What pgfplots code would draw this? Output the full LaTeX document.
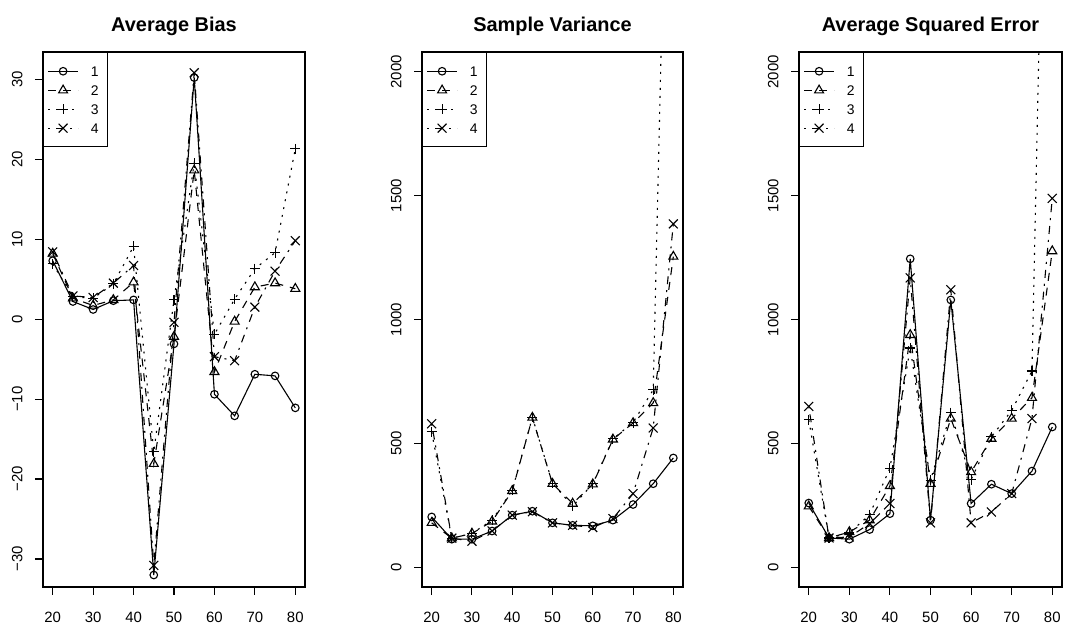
\documentclass[border=0pt]{standalone}
\usepackage{pgfplots}
\pgfplotsset{compat=1.18}
\usepackage{pgfplotstable}
\usepackage{fontspec}
\setmainfont{Liberation Sans}

% panel data: x, then series 1..4
\pgfplotstableread{
x s1 s2 s3 s4
20 7.3 8.2 6.9 8.4
25 2.2 2.6 2.8 2.9
30 1.2 1.7 2.6 2.7
35 2.3 2.4 4.4 4.5
40 2.4 4.6 9.1 6.7
45 -32.0 -18.1 -16.6 -30.8
50 -3.1 -2.2 2.4 -0.4
55 30.2 18.6 19.5 30.8
60 -9.4 -6.6 -1.9 -4.7
65 -12.1 -0.3 2.5 -5.2
70 -6.9 4.0 6.3 1.5
75 -7.1 4.5 8.3 6.0
80 -11.1 3.8 21.3 9.8
}\bias

\pgfplotstableread{
x s1 s2 s3 s4
20 203 179 546 579
25 113 117 117 117
30 113 136 136 105
35 146 185 190 146
40 210 308 310 210
45 226 604 605 224
50 179 337 339 179
55 169 257 246 169
60 167 335 337 160
65 190 516 518 196
70 253 582 584 297
75 337 663 716 562
80 441 1254 4200 1386
}\variance

\pgfplotstableread{
x s1 s2 s3 s4
20 259 246 595 649
25 118 118 118 118
30 113 142 138 122
35 152 190 212 176
40 216 328 400 257
45 1245 938 885 1168
50 190 337 351 179
55 1079 600 624 1120
60 257 384 354 179
65 335 519 526 223
70 297 600 633 297
75 388 684 792 600
80 566 1276 4600 1489
}\sqerr

\pgfplotsset{
  rpanel/.style={
    scale only axis, height=535bp, anchor=south west,
    axis line style={line width=1.1bp},
    xmin=17.6, xmax=82.4, xtick={20,30,...,80},
    tick align=outside, tick pos=left, major tick length=8bp,
    every tick/.style={black, line width=1.1bp},
    scaled ticks=false,
    /pgf/number format/1000 sep={},
    /pgf/number format/assume math mode=true,
    tick label style={font=\fontsize{15}{17}\selectfont},
    yticklabel style={rotate=90, anchor=south},
    xticklabel shift=14bp, yticklabel shift=9bp,
    title style={font=\fontsize{20}{22}\selectfont\bfseries, anchor=base, yshift=15bp},
    legend style={at={(0,1)}, anchor=north west, draw=black, line width=1.1bp,
      font=\fontsize{14}{16}\selectfont, inner xsep=4bp, inner ysep=13.7bp, row sep=8.9bp,
      nodes={inner sep=0bp, text height=10bp, text depth=0bp},
      /tikz/every odd column/.append style={column sep=7.5bp},
      /tikz/every even column/.append style={nodes={minimum width=17bp}}},
    legend cell align=left,
    legend image code/.code={\draw[mark repeat=2,mark phase=2,#1] plot coordinates {(0bp,0bp) (15bp,0bp) (30bp,0bp)};},
    every axis plot/.append style={black, line width=1.1bp, mark options={solid}},
  },
  s1/.style={solid, mark=o, mark size=3.8bp},
  s2/.style={dash pattern=on 8bp off 7bp, mark=triangle, mark size=5.2bp},
  s3/.style={dash pattern=on 2bp off 6bp, mark=+, mark size=5bp},
  s4/.style={dash pattern=on 2bp off 6bp on 8bp off 6bp, mark=x, mark size=6.3bp},
}

\begin{document}
\begin{tikzpicture}
\path[use as bounding box] (0,0) rectangle (1065bp,632bp);

\begin{axis}[rpanel, at={(43bp,45bp)}, width=262bp,
  title={Average Bias},
  ymin=-33.5, ymax=33.4, ytick={-30,-20,...,30},
  yticklabels={−30,−20,−10,0,10,20,30}]
\addplot[s1] table[x=x,y=s1] {\bias};
\addplot[s2] table[x=x,y=s2] {\bias};
\addplot[s3] table[x=x,y=s3] {\bias};
\addplot[s4] table[x=x,y=s4] {\bias};
\legend{1,2,3,4}
\end{axis}

\begin{axis}[rpanel, at={(422bp,45bp)}, width=261bp,
  title={Sample Variance},
  ymin=-80, ymax=2080, ytick={0,500,...,2000}]
\addplot[s1] table[x=x,y=s1] {\variance};
\addplot[s2] table[x=x,y=s2] {\variance};
\addplot[s3] table[x=x,y=s3] {\variance};
\addplot[s4] table[x=x,y=s4] {\variance};
\legend{1,2,3,4}
\end{axis}

\begin{axis}[rpanel, at={(799bp,45bp)}, width=263bp,
  title={Average Squared Error},
  ymin=-80, ymax=2080, ytick={0,500,...,2000}]
\addplot[s1] table[x=x,y=s1] {\sqerr};
\addplot[s2] table[x=x,y=s2] {\sqerr};
\addplot[s3] table[x=x,y=s3] {\sqerr};
\addplot[s4] table[x=x,y=s4] {\sqerr};
\legend{1,2,3,4}
\end{axis}
\end{tikzpicture}
\end{document}
